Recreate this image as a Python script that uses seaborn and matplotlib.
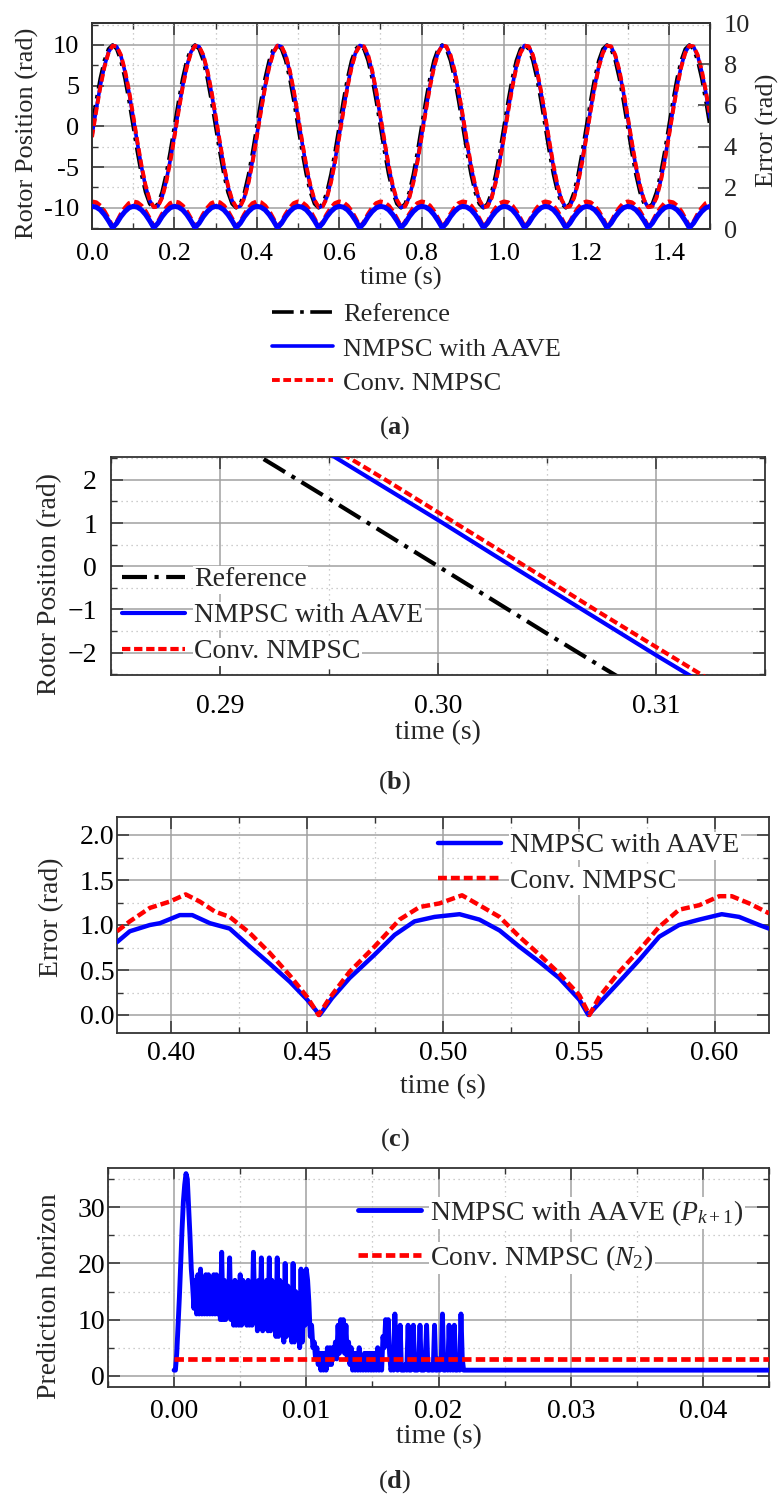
import numpy as np
import pandas as pd
import matplotlib
matplotlib.use("Agg")
import matplotlib.pyplot as plt
from matplotlib.ticker import MultipleLocator, FuncFormatter
import seaborn as sns

sns.set_theme(style="white")
plt.rcParams["font.family"] = ["Liberation Serif", "DejaVu Serif"]
plt.rcParams["mathtext.fontset"] = "custom"
plt.rcParams["mathtext.rm"] = "Liberation Serif"
plt.rcParams["mathtext.it"] = "Liberation Serif:italic"
plt.rcParams["mathtext.bf"] = "Liberation Serif:bold"

# ---------------- data ----------------
# (a) rotor position over 1.5 s, sampled every 10 ms
time_a = np.linspace(0.0, 1.5, 151)
pos_reference = [
    0.00, 3.09, 5.88, 8.09, 9.51, 10.00, 9.51, 8.09, 5.88, 3.09, 0.00, -3.09, -5.88, -8.09, -9.51, -10.00, -9.51, -8.09, -5.88, -3.09,
    0.00, 3.09, 5.88, 8.09, 9.51, 10.00, 9.51, 8.09, 5.88, 3.09, 0.00, -3.09, -5.88, -8.09, -9.51, -10.00, -9.51, -8.09, -5.88, -3.09,
    0.00, 3.09, 5.88, 8.09, 9.51, 10.00, 9.51, 8.09, 5.88, 3.09, 0.00, -3.09, -5.88, -8.09, -9.51, -10.00, -9.51, -8.09, -5.88, -3.09,
    0.00, 3.09, 5.88, 8.09, 9.51, 10.00, 9.51, 8.09, 5.88, 3.09, 0.00, -3.09, -5.88, -8.09, -9.51, -10.00, -9.51, -8.09, -5.88, -3.09,
    0.00, 3.09, 5.88, 8.09, 9.51, 10.00, 9.51, 8.09, 5.88, 3.09, 0.00, -3.09, -5.88, -8.09, -9.51, -10.00, -9.51, -8.09, -5.88, -3.09,
    0.00, 3.09, 5.88, 8.09, 9.51, 10.00, 9.51, 8.09, 5.88, 3.09, 0.00, -3.09, -5.88, -8.09, -9.51, -10.00, -9.51, -8.09, -5.88, -3.09,
    0.00, 3.09, 5.88, 8.09, 9.51, 10.00, 9.51, 8.09, 5.88, 3.09, 0.00, -3.09, -5.88, -8.09, -9.51, -10.00, -9.51, -8.09, -5.88, -3.09,
    0.00, 3.09, 5.88, 8.09, 9.51, 10.00, 9.51, 8.09, 5.88, 3.09, 0.00,
]
pos_aave = [
    -1.10, 2.03, 4.95, 7.39, 9.11, 9.94, 9.79, 8.69, 6.73, 4.12, 1.10, -2.03, -4.95, -7.39, -9.11, -9.94, -9.79, -8.69, -6.73, -4.12,
    -1.10, 2.03, 4.95, 7.39, 9.11, 9.94, 9.79, 8.69, 6.73, 4.12, 1.10, -2.03, -4.95, -7.39, -9.11, -9.94, -9.79, -8.69, -6.73, -4.12,
    -1.10, 2.03, 4.95, 7.39, 9.11, 9.94, 9.79, 8.69, 6.73, 4.12, 1.10, -2.03, -4.95, -7.39, -9.11, -9.94, -9.79, -8.69, -6.73, -4.12,
    -1.10, 2.03, 4.95, 7.39, 9.11, 9.94, 9.79, 8.69, 6.73, 4.12, 1.10, -2.03, -4.95, -7.39, -9.11, -9.94, -9.79, -8.69, -6.73, -4.12,
    -1.10, 2.03, 4.95, 7.39, 9.11, 9.94, 9.79, 8.69, 6.73, 4.12, 1.10, -2.03, -4.95, -7.39, -9.11, -9.94, -9.79, -8.69, -6.73, -4.12,
    -1.10, 2.03, 4.95, 7.39, 9.11, 9.94, 9.79, 8.69, 6.73, 4.12, 1.10, -2.03, -4.95, -7.39, -9.11, -9.94, -9.79, -8.69, -6.73, -4.12,
    -1.10, 2.03, 4.95, 7.39, 9.11, 9.94, 9.79, 8.69, 6.73, 4.12, 1.10, -2.03, -4.95, -7.39, -9.11, -9.94, -9.79, -8.69, -6.73, -4.12,
    -1.10, 2.03, 4.95, 7.39, 9.11, 9.94, 9.79, 8.69, 6.73, 4.12, 1.10,
]
pos_conv = [
    -1.32, 1.81, 4.76, 7.24, 9.02, 9.91, 9.83, 8.79, 6.89, 4.33, 1.32, -1.81, -4.76, -7.24, -9.02, -9.91, -9.83, -8.79, -6.89, -4.33,
    -1.32, 1.81, 4.76, 7.24, 9.02, 9.91, 9.83, 8.79, 6.89, 4.33, 1.32, -1.81, -4.76, -7.24, -9.02, -9.91, -9.83, -8.79, -6.89, -4.33,
    -1.32, 1.81, 4.76, 7.24, 9.02, 9.91, 9.83, 8.79, 6.89, 4.33, 1.32, -1.81, -4.76, -7.24, -9.02, -9.91, -9.83, -8.79, -6.89, -4.33,
    -1.32, 1.81, 4.76, 7.24, 9.02, 9.91, 9.83, 8.79, 6.89, 4.33, 1.32, -1.81, -4.76, -7.24, -9.02, -9.91, -9.83, -8.79, -6.89, -4.33,
    -1.32, 1.81, 4.76, 7.24, 9.02, 9.91, 9.83, 8.79, 6.89, 4.33, 1.32, -1.81, -4.76, -7.24, -9.02, -9.91, -9.83, -8.79, -6.89, -4.33,
    -1.32, 1.81, 4.76, 7.24, 9.02, 9.91, 9.83, 8.79, 6.89, 4.33, 1.32, -1.81, -4.76, -7.24, -9.02, -9.91, -9.83, -8.79, -6.89, -4.33,
    -1.32, 1.81, 4.76, 7.24, 9.02, 9.91, 9.83, 8.79, 6.89, 4.33, 1.32, -1.81, -4.76, -7.24, -9.02, -9.91, -9.83, -8.79, -6.89, -4.33,
    -1.32, 1.81, 4.76, 7.24, 9.02, 9.91, 9.83, 8.79, 6.89, 4.33, 1.32,
]

# (b) zoom around the zero crossing at t = 0.30 s
time_b = [0.285, 0.2875, 0.29, 0.2925, 0.295, 0.2975, 0.30,
          0.3025, 0.305, 0.3075, 0.31, 0.3125, 0.315]
zoom_reference = [4.54, 3.83, 3.09, 2.33, 1.56, 0.78, 0.00,
                  -0.78, -1.56, -2.33, -3.09, -3.83, -4.54]
zoom_aave = [5.46, 4.79, 4.09, 3.36, 2.61, 1.84, 1.07,
             0.28, -0.50, -1.28, -2.06, -2.82, -3.56]
zoom_conv = [5.62, 4.96, 4.26, 3.54, 2.79, 2.03, 1.25,
             0.47, -0.31, -1.10, -1.87, -2.64, -3.39]

# (c) absolute tracking error between 0.38 s and 0.62 s
time_c_aave = [0.380, 0.3847, 0.3921, 0.3958, 0.4031, 0.4077, 0.4142, 0.4215,
               0.4289, 0.4362, 0.4436, 0.4500, 0.4546, 0.4592, 0.4656, 0.4748,
               0.4822, 0.4895, 0.4969, 0.5061, 0.5134, 0.5208, 0.5281, 0.5355,
               0.5428, 0.5502, 0.5535, 0.5575, 0.5649, 0.5722, 0.5796, 0.5869,
               0.5943, 0.6026, 0.6090, 0.6164, 0.620]
error_aave = [0.81, 0.93, 1.00, 1.02, 1.11, 1.11, 1.02, 0.96,
              0.76, 0.57, 0.37, 0.17, 0.00, 0.19, 0.41, 0.67,
              0.89, 1.04, 1.09, 1.12, 1.06, 0.94, 0.76, 0.59,
              0.41, 0.17, 0.00, 0.13, 0.37, 0.61, 0.87, 1.00,
              1.06, 1.12, 1.09, 1.00, 0.96]
time_c_conv = [0.380, 0.3847, 0.3921, 0.3994, 0.4053, 0.4105, 0.4160, 0.4215,
               0.4289, 0.4362, 0.4436, 0.4500, 0.4542, 0.4583, 0.4656, 0.4748,
               0.4840, 0.4914, 0.4987, 0.5070, 0.5134, 0.5208, 0.5281, 0.5355,
               0.5428, 0.5502, 0.5539, 0.5575, 0.5649, 0.5722, 0.5796, 0.5869,
               0.5943, 0.6017, 0.6063, 0.6127, 0.620]
error_conv = [0.93, 1.04, 1.19, 1.26, 1.34, 1.26, 1.15, 1.09,
              0.91, 0.69, 0.44, 0.20, 0.00, 0.19, 0.48, 0.76,
              1.06, 1.20, 1.24, 1.33, 1.22, 1.09, 0.87, 0.67,
              0.46, 0.22, 0.00, 0.20, 0.48, 0.72, 0.98, 1.17,
              1.22, 1.32, 1.32, 1.24, 1.13]

# (d) prediction horizon, sampled every 0.1 ms until 22 ms, then held
time_d = np.append(np.linspace(0.0, 0.022, 221), 0.045)
horizon_aave = [
    1, 1, 4, 9, 14, 20, 26, 31, 34, 36,
    35, 30, 25, 19, 16, 12, 17, 11, 18, 11,
    19, 11, 17, 11, 18, 11, 18, 11, 17, 11,
    18, 11, 18, 11, 17, 10, 22, 10, 17, 10,
    16, 11, 21, 10, 16, 9, 17, 9, 16, 9,
    18, 9, 17, 10, 16, 9, 17, 9, 16, 9,
    22, 12, 16, 8, 17, 10, 21, 8, 16, 12,
    17, 8, 21, 8, 17, 11, 15, 7, 21, 7,
    17, 11, 15, 6, 20, 7, 16, 11, 14, 6,
    20, 6, 15, 10, 14, 5, 19, 6, 14, 9,
    19, 17, 13, 7, 9, 5, 6, 3, 5, 2,
    4, 1, 4, 1, 4, 1, 5, 2, 5, 2,
    5, 3, 6, 3, 9, 4, 10, 5, 10, 4,
    9, 3, 6, 2, 5, 1, 4, 1, 4, 1,
    5, 1, 3, 1, 4, 1, 4, 1, 4, 1,
    4, 1, 4, 1, 5, 1, 4, 1, 7, 5,
    10, 6, 10, 4, 1, 2, 1, 11, 2, 1,
    3, 9, 1, 1, 1, 2, 1, 9, 1, 1,
    3, 9, 1, 1, 1, 2, 9, 1, 1, 1,
    3, 9, 1, 1, 2, 1, 1, 9, 1, 1,
    3, 1, 2, 11, 1, 1, 3, 1, 9, 1,
    2, 1, 9, 1, 1, 2, 1, 11, 3, 1,
    1,
    1,
]
time_d_conv = [0.0, 0.045]
horizon_conv = [3, 3]

# ---------------- styling ----------------
BLUE, RED, BLACK = "#0000ff", "#ff0000", "#000000"
LS_REF = (0, (6, 1.8, 1, 1.8))
LS_CONV = (0, (2.0, 0.9))
W, H = 781, 1499
FS_A, FS = 19, 20

fig = plt.figure(figsize=(W / 100, H / 100), dpi=100)
fig.patch.set_facecolor("white")


def px_axes(left, top, right, bottom):
    return fig.add_axes([left / W, 1 - bottom / H, (right - left) / W, (bottom - top) / H])


def style_axes(ax, xmaj, xmin, ymaj, ymin, fs, xpad, ypad, right=True):
    ax.set_facecolor("white")
    ax.xaxis.set_major_locator(MultipleLocator(xmaj))
    ax.xaxis.set_minor_locator(MultipleLocator(xmin))
    ax.yaxis.set_major_locator(MultipleLocator(ymaj))
    ax.yaxis.set_minor_locator(MultipleLocator(ymin))
    ax.grid(which="major", color="#a0a0a0", lw=1.1, ls="-")
    ax.grid(which="minor", color="#bdbdbd", lw=0.9, ls=(0, (1, 3)))
    ax.tick_params(which="both", direction="in", top=True, right=right,
                   bottom=True, left=True, color="#333333", labelcolor="black")
    ax.tick_params(which="major", length=8.5, width=1.1)
    ax.tick_params(which="minor", length=4.5, width=1.0)
    ax.tick_params(axis="x", which="major", pad=xpad, labelsize=fs)
    ax.tick_params(axis="y", which="major", pad=ypad, labelsize=fs)
    for s in ax.spines.values():
        s.set_color("#333333")
        s.set_linewidth(1.3)
        s.set_visible(True)


def place_xlabel(ax, text, fs, y_px, top, bottom):
    ax.set_xlabel(text, fontsize=fs)
    ax.xaxis.set_label_coords(0.5, -(y_px - bottom) / (bottom - top))
    ax.xaxis.label.set_va("center")


def place_ylabel(ax, text, fs, x_px, y_px, left, top, right, bottom):
    ax.set_ylabel(text, fontsize=fs)
    ax.yaxis.set_label_coords((x_px - left) / (right - left), (bottom - y_px) / (bottom - top))
    ax.yaxis.label.set_va("center")
    ax.yaxis.label.set_ha("center")


def white_text_legend(leg):
    for t in leg.get_texts():
        t.set_bbox(dict(facecolor="white", edgecolor="none", pad=1.0))


def draw(ax, x, y, color, ls, lw, label=None, z=2):
    sns.lineplot(x=x, y=y, ax=ax, color=color, linestyle=ls, linewidth=lw,
                 label=label, estimator=None, errorbar=None, sort=False,
                 legend=False, zorder=z)


def hyphen_fmt(fmt):
    return FuncFormatter(lambda v, p: fmt.format(v).replace("\u2212", "-"))


def minus_fmt(fmt):
    return FuncFormatter(lambda v, p: fmt.format(v).replace("-", "\u2212"))


# ---------------- (a) ----------------
L, T, R, B = 92, 23, 710, 229
ax_a = px_axes(L, T, R, B)
err_aave_a = np.abs(np.array(pos_reference) - np.array(pos_aave))
err_conv_a = np.abs(np.array(pos_reference) - np.array(pos_conv))
draw(ax_a, time_a, pos_reference, BLACK, LS_REF, 2.6, "Reference", 2)
draw(ax_a, time_a, pos_aave, BLUE, "-", 2.6, "NMPSC with AAVE", 3)
draw(ax_a, time_a, pos_conv, RED, LS_CONV, 2.8, "Conv. NMPSC", 4)
ax_a.set_xlim(0.0, 1.5)
ax_a.set_ylim(-12.6, 12.7)
style_axes(ax_a, 0.2, 0.1, 5, 2.5, FS_A, 10, 9, right=False)
ax_a.xaxis.set_major_formatter(hyphen_fmt("{:.1f}"))
ax_a.yaxis.set_major_formatter(hyphen_fmt("{:g}"))
place_xlabel(ax_a, "time (s)", FS_A, 278, T, B)
place_ylabel(ax_a, "Rotor Position (rad)", FS_A, 27, 133, L, T, R, B)

ax_a2 = ax_a.twinx()
draw(ax_a2, time_a, err_conv_a, RED, LS_CONV, 3.4, None, 2)
draw(ax_a2, time_a, err_aave_a, BLUE, "-", 3.6, None, 3)
ax_a2.set_ylim(0, 10)
ax_a2.yaxis.set_major_locator(MultipleLocator(2))
ax_a2.yaxis.set_minor_locator(MultipleLocator(1))
ax_a2.tick_params(which="both", direction="in", right=True, left=False,
                  color="#333333", labelsize=FS_A, pad=10)
ax_a2.tick_params(which="major", length=8.5, width=1.1)
ax_a2.tick_params(which="minor", length=0)
ax_a2.yaxis.set_major_formatter(hyphen_fmt("{:g}"))
ax_a2.set_ylabel("Error (rad)", fontsize=FS_A)
ax_a2.yaxis.set_label_coords((767 - L) / (R - L), (B - 130) / (B - T))
ax_a2.yaxis.label.set_va("center")
ax_a2.yaxis.label.set_ha("center")
ax_a2.grid(False)
for s in ax_a2.spines.values():
    s.set_color("#333333")
    s.set_linewidth(1.3)

h_a = ax_a.get_lines()[:3]
leg_a = ax_a.legend(h_a, ["Reference", "NMPSC with AAVE", "Conv. NMPSC"],
                    loc="upper left", bbox_to_anchor=(272 / W, 1 - 303 / H),
                    bbox_transform=fig.transFigure, frameon=False, fontsize=FS_A,
                    handlelength=2.3, handletextpad=0.4, labelspacing=0.4,
                    borderpad=0, borderaxespad=0)
fig.text(395 / W, 1 - 428 / H, r"($\mathbf{a}$)", ha="center", va="center", fontsize=19)

# ---------------- (b) ----------------
L, T, R, B = 111, 457, 765, 675
ax_b = px_axes(L, T, R, B)
draw(ax_b, time_b, zoom_reference, BLACK, LS_REF, 3.0, "Reference", 2)
draw(ax_b, time_b, zoom_aave, BLUE, "-", 3.0, "NMPSC with AAVE", 3)
draw(ax_b, time_b, zoom_conv, RED, LS_CONV, 3.0, "Conv. NMPSC", 4)
ax_b.set_xlim(0.285, 0.315)
ax_b.set_ylim(-2.52, 2.53)
style_axes(ax_b, 0.01, 0.005, 1, 0.5, FS, 14, 10)
ax_b.xaxis.set_major_formatter(minus_fmt("{:.2f}"))
ax_b.yaxis.set_major_formatter(minus_fmt("{:g}"))
place_xlabel(ax_b, "time (s)", FS, 733, T, B)
place_ylabel(ax_b, "Rotor Position (rad)", FS, 50, 584, L, T, R, B)
leg_b = ax_b.legend(ax_b.get_lines()[:3], ["Reference", "NMPSC with AAVE", "Conv. NMPSC"],
                    loc="upper left", bbox_to_anchor=(122 / W, 1 - 567 / H),
                    bbox_transform=fig.transFigure, frameon=False, fontsize=FS,
                    handlelength=2.25, handletextpad=0.35, labelspacing=0.38,
                    borderpad=0, borderaxespad=0)
white_text_legend(leg_b)
fig.text(395 / W, 1 - 783 / H, r"($\mathbf{b}$)", ha="center", va="center", fontsize=19)

# ---------------- (c) ----------------
L, T, R, B = 117, 817, 769, 1033
ax_c = px_axes(L, T, R, B)
draw(ax_c, time_c_aave, error_aave, BLUE, "-", 3.2, "NMPSC with AAVE", 3)
draw(ax_c, time_c_conv, error_conv, RED, LS_CONV, 3.2, "Conv. NMPSC", 4)
ax_c.set_xlim(0.38, 0.62)
ax_c.set_ylim(-0.2, 2.2)
style_axes(ax_c, 0.05, 0.025, 0.5, 0.25, FS, 6, 2)
ax_c.xaxis.set_major_formatter(minus_fmt("{:.2f}"))
ax_c.yaxis.set_major_formatter(minus_fmt("{:.1f}"))
place_xlabel(ax_c, "time (s)", FS, 1087, T, B)
place_ylabel(ax_c, "Error (rad)", FS, 52, 917, L, T, R, B)
leg_c = ax_c.legend(ax_c.get_lines()[:2], ["NMPSC with AAVE", "Conv. NMPSC"],
                    loc="upper left", bbox_to_anchor=(438 / W, 1 - 833 / H),
                    bbox_transform=fig.transFigure, frameon=False, fontsize=FS,
                    handlelength=2.25, handletextpad=0.35, labelspacing=0.35,
                    borderpad=0, borderaxespad=0)
white_text_legend(leg_c)
fig.text(395 / W, 1 - 1140 / H, r"($\mathbf{c}$)", ha="center", va="center", fontsize=19)

# ---------------- (d) ----------------
L, T, R, B = 108, 1168, 769, 1387
ax_d = px_axes(L, T, R, B)
draw(ax_d, time_d, horizon_aave, BLUE, "-", 3.5, None, 3)
draw(ax_d, time_d_conv, horizon_conv, RED, LS_CONV, 3.4, None, 4)
ax_d.set_xlim(-0.005, 0.045)
ax_d.set_ylim(-2, 37)
style_axes(ax_d, 0.01, 0.005, 10, 5, FS, 9, 2)
ax_d.xaxis.set_major_formatter(minus_fmt("{:.2f}"))
ax_d.yaxis.set_major_formatter(minus_fmt("{:g}"))
place_xlabel(ax_d, "time (s)", FS, 1437, T, B)
place_ylabel(ax_d, "Prediction horizon", FS, 50, 1296, L, T, R, B)
leg_d = ax_d.legend(ax_d.get_lines()[:2],
                    [r"NMPSC with AAVE ($P_{k+1}$)", r"Conv. NMPSC ($N_2$)"],
                    loc="upper left", bbox_to_anchor=(358 / W, 1 - 1198 / H),
                    bbox_transform=fig.transFigure, frameon=False, fontsize=FS,
                    handlelength=2.25, handletextpad=0.35, labelspacing=0.55,
                    borderpad=0, borderaxespad=0)
white_text_legend(leg_d)
fig.text(395 / W, 1 - 1482 / H, r"($\mathbf{d}$)", ha="center", va="center", fontsize=19)

fig.savefig("out.png", dpi=100, facecolor="white")
